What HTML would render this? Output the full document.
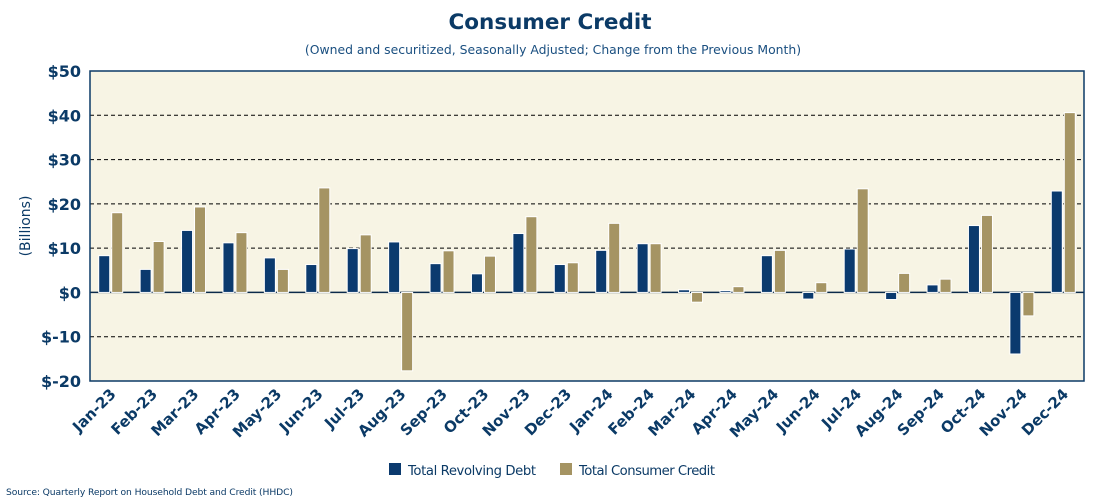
<!DOCTYPE html>
<html><head><meta charset="utf-8"><style>
body{margin:0;background:#fff;width:1100px;height:500px;overflow:hidden;font-family:"DejaVu Sans","Liberation Sans",sans-serif}
</style></head><body>
<svg id="c" width="1100" height="500" xmlns="http://www.w3.org/2000/svg">
<text x="550" y="29" text-anchor="middle" font-size="21.5" font-weight="bold" fill="#0b3a66">Consumer Credit</text>
<text x="553" y="54" text-anchor="middle" font-size="12.4" fill="#1a4f80">(Owned and securitized, Seasonally Adjusted; Change from the Previous Month)</text>
<rect x="90" y="71" width="994" height="310" fill="#f7f4e4"/>
<g id="grid"></g><g id="bars"></g>
<rect x="90" y="71" width="994" height="310" fill="none" stroke="#0b3a66" stroke-width="1.5"/>
<g id="yt"></g><g id="xt"></g>
<text transform="translate(30,226) rotate(-90)" text-anchor="middle" font-size="14" fill="#0b3a66">(Billions)</text>
<g>
<rect x="389" y="463" width="12" height="12" fill="#0b3a6e"/>
<text x="408" y="475" font-size="13.2" fill="#0b3a66" textLength="128">Total Revolving Debt</text>
<rect x="560" y="463" width="12" height="12" fill="#a59463"/>
<text x="579" y="475" font-size="13.2" fill="#0b3a66" textLength="136">Total Consumer Credit</text>
</g>
<text x="6" y="495" font-size="9.2" fill="#0b3a66" textLength="287">Source: Quarterly Report on Household Debt and Credit (HHDC)</text>
</svg>
<script>
const categories=["Jan-23","Feb-23","Mar-23","Apr-23","May-23","Jun-23","Jul-23","Aug-23","Sep-23","Oct-23","Nov-23","Dec-23","Jan-24","Feb-24","Mar-24","Apr-24","May-24","Jun-24","Jul-24","Aug-24","Sep-24","Oct-24","Nov-24","Dec-24"];
const revolving=[8.3,5.2,14,11.2,7.8,6.3,9.9,11.4,6.5,4.2,13.3,6.3,9.5,11,0.6,0.4,8.3,-1.5,9.8,-1.6,1.7,15.1,-13.9,22.9];
const consumer=[18,11.5,19.3,13.5,5.2,23.6,13,-17.7,9.4,8.2,17.1,6.7,15.6,11,-2.2,1.3,9.5,2.2,23.4,4.3,3,17.4,-5.3,40.6];
const yTicks=[-20,-10,0,10,20,30,40,50];
const yLabels=["$-20","$-10","$0","$10","$20","$30","$40","$50"];
const NS="http://www.w3.org/2000/svg";
const L=90,R=1084,T=71,B=381,ymin=-20,ymax=50;
const y=v=>B-(v-ymin)/(ymax-ymin)*(B-T);
const band=(R-L)/categories.length;
const x=i=>L+i*band;
function mk(t,a,p){const e=document.createElementNS(NS,t);for(const k in a)e.setAttribute(k,a[k]);p.appendChild(e);return e;}
const grid=document.getElementById('grid'),yt=document.getElementById('yt'),xt=document.getElementById('xt'),bars=document.getElementById('bars');
yTicks.forEach((v,i)=>{
 if(v!==0&&v!==ymin&&v!==ymax){const g=mk('line',{x1:L,x2:R,y1:y(v),y2:y(v),stroke:'#000','stroke-dasharray':'4,3','stroke-width':1},grid);
 
 }
 const t=mk('text',{x:L-9,y:y(v)+6,'text-anchor':'end','font-size':16,'font-weight':'bold',fill:'#0b3a66'},yt);
 t.textContent=yLabels[i];
 
 
});
const z=mk('line',{x1:L,x2:R,y1:y(0),y2:y(0),stroke:'#0b2a4a','stroke-width':1.5},grid);


const bw=11;
categories.forEach((c,i)=>{
 const cx=x(i)+band/2;
 [[revolving[i],'#0b3a6e',cx-bw-1,'bar-revolving'],[consumer[i],'#a59463',cx+1,'bar-consumer']].forEach(([v,col,bx,nm])=>{
  const r=mk('rect',{x:bx,y:Math.min(y(v),y(0)),width:bw,height:Math.abs(y(v)-y(0)),fill:col,stroke:'#fff','stroke-width':1},bars);
  
  
 });
 const t=mk('text',{'text-anchor':'end','font-size':15,'font-weight':'bold',fill:'#0b3a66',transform:`translate(${cx+6},${B+14}) rotate(-45)`},xt);
 t.textContent=c;
 
 
});
</script>
</body></html>
